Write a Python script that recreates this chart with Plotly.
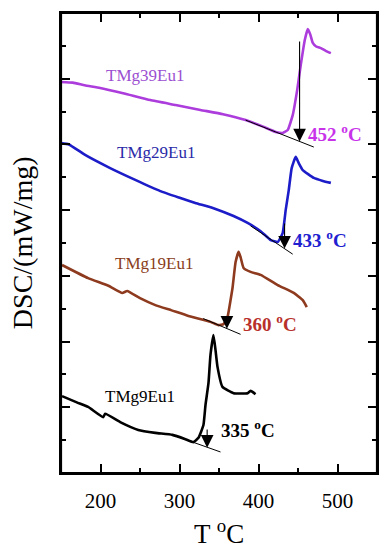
import plotly.graph_objects as go

# ---- data ----
t39 = [150, 165, 180, 199.5, 230, 263, 295, 326.5, 355, 383.7, 405, 421.7, 430.6, 437, 443.3, 449, 453.5, 458.6, 462.4, 465.5, 468.7, 473, 478.9, 485, 491.6]
d39 = [11.90, 11.88, 11.80, 11.72, 11.55, 11.35, 11.20, 11.05, 10.92, 10.74, 10.55, 10.38, 10.35, 10.44, 10.89, 11.66, 12.42, 13.18, 13.51, 13.35, 13.09, 12.98, 12.93, 12.85, 12.78]

t29 = [150, 160, 180.5, 212.2, 244, 275.7, 301.1, 320, 343, 368.4, 386.2, 402.7, 415.4, 424.3, 430.6, 434.4, 438.3, 442, 447.1, 451, 456, 470, 481.4, 491.6]
d29 = [10.04, 10.00, 9.68, 9.28, 8.92, 8.58, 8.37, 8.22, 8.06, 7.82, 7.61, 7.36, 7.09, 7.03, 7.30, 8.00, 8.61, 9.28, 9.62, 9.43, 9.22, 8.98, 8.89, 8.83]

t19 = [151.3, 184.3, 210, 227.5, 233.8, 250, 269.4, 290, 311.3, 339.2, 349.4, 355.7, 360.8, 364.6, 367.1, 371, 374.8, 377.3, 381.1, 390, 402.7, 424.3, 444.6, 456, 461.1]
d19 = [6.33, 5.93, 5.70, 5.48, 5.54, 5.32, 5.11, 4.95, 4.78, 4.60, 4.50, 4.53, 4.75, 5.26, 5.63, 6.42, 6.73, 6.57, 6.24, 6.12, 6.03, 5.72, 5.48, 5.26, 5.05]

t9 = [151.3, 170, 184.3, 203.3, 205.9, 224.9, 247.8, 269.4, 291, 307.5, 317.6, 324, 330.3, 332.9, 336.7, 339.2, 343, 345.6, 348.1, 354.4, 368.4, 386.2, 390, 396.3]
d9 = [2.34, 2.15, 2.01, 1.70, 1.80, 1.55, 1.31, 1.22, 1.16, 1.03, 0.94, 1.07, 1.46, 2.07, 2.74, 3.59, 4.20, 3.74, 3.23, 2.62, 2.43, 2.43, 2.50, 2.40]

names = ["TMg39Eu1", "TMg29Eu1", "TMg19Eu1", "TMg9Eu1"]
onsets = [452, 433, 360, 335]
onset_labels = ["452", "433", "360", "335"]

# tangent (baseline extrapolation) lines: x pairs, y pairs
tan_x = [[383.7, 470], [390, 443.3], [330, 377.3], [291, 351.9]]
tan_y = [[10.74, 9.92], [7.52, 6.66], [4.70, 4.22], [1.16, 0.64]]
# arrows: start y and tip y at onset temperature
arrow_top = [13.18, 7.64, 4.75, 1.37]
arrow_tip = [10.09, 6.83, 4.39, 0.77]

name_pos = [(256.7, 12.11), (270.6, 9.74), (268, 6.39), (250.3, 2.34)]
onset_pos = [(459.8, 10.35), (440.8, 7.12), (377.3, 4.56), (349.4, 1.34)]

curve_colors = ["#ac3cdc", "#1c1cc8", "#8e3a1e", "#000000"]
name_colors = ["#9b4fd1", "#2a2aa8", "#8a3d20", "#000000"]
onset_colors = ["#c833ea", "#2020d0", "#b8302a", "#000000"]

FONT = "Liberation Serif, Times New Roman, serif"

fig = go.Figure()
series = [(t39, d39), (t29, d29), (t19, d19), (t9, d9)]
for (tx, dy), nm, c in zip(series, names, curve_colors):
    fig.add_trace(go.Scatter(x=tx, y=dy, mode="lines", name=nm,
                             line=dict(color=c, width=2.6, shape="spline", smoothing=0.4),
                             showlegend=False))
for tx, ty in zip(tan_x, tan_y):
    fig.add_trace(go.Scatter(x=tx, y=ty, mode="lines", line=dict(color="black", width=1),
                             showlegend=False))

ann = []
for i in range(4):
    ann.append(dict(x=onsets[i], y=arrow_tip[i], ax=onsets[i], ay=arrow_top[i],
                    xref="x", yref="y", axref="x", ayref="y", text="",
                    showarrow=True, arrowhead=2, arrowsize=2.3, arrowwidth=1.1,
                    arrowcolor="black"))
    ann.append(dict(x=name_pos[i][0], y=name_pos[i][1], xref="x", yref="y",
                    text=names[i], showarrow=False,
                    font=dict(family=FONT, size=17, color=name_colors[i])))
    ann.append(dict(x=onset_pos[i][0], y=onset_pos[i][1], xref="x", yref="y",
                    text="<b>" + onset_labels[i] + " <sup>o</sup>C</b>", showarrow=False,
                    xanchor="left",
                    font=dict(family=FONT, size=19, color=onset_colors[i])))

ann.append(dict(x=0.5, y=-0.128, xref="paper", yref="paper", yanchor="middle",
                text="T <sup>o</sup>C", showarrow=False,
                font=dict(family=FONT, size=27, color="black")))
ann.append(dict(x=-0.123, y=0.5, xref="paper", yref="paper", xanchor="center",
                text="DSC/(mW/mg)", showarrow=False, textangle=-90,
                font=dict(family=FONT, size=28, color="black")))

# page body adds an 8px offset; size/margins compensate so the plot box sits at 61..377 x 13..473
fig.update_layout(
    width=381, height=542,
    margin=dict(l=53, r=12, t=5, b=77, autoexpand=False),
    paper_bgcolor="white", plot_bgcolor="white",
    annotations=ann,
    font=dict(family=FONT, color="black"),
    shapes=[dict(type="rect", xref="paper", yref="paper", x0=0, x1=1, y0=0, y1=1,
                 line=dict(color="black", width=2.2), layer="above")],
)
fig.update_xaxes(range=[150, 550], tickvals=[200, 300, 400, 500],
                 ticks="inside", ticklen=9, tickwidth=2, tickcolor="black",
                 minor=dict(tickvals=[250, 350, 450], ticks="inside", ticklen=5, tickwidth=2, tickcolor="black"),
                 showline=True, linewidth=2, linecolor="black", mirror="ticks",
                 showgrid=False, zeroline=False,
                 tickfont=dict(family=FONT, size=21, color="black"),
                 ticklabelstandoff=8)
fig.update_yaxes(range=[0, 14], dtick=2, tick0=0,
                 ticks="inside", ticklen=9, tickwidth=2, tickcolor="black",
                 minor=dict(dtick=1, ticks="inside", ticklen=5, tickwidth=2, tickcolor="black"),
                 showline=True, linewidth=2, linecolor="black", mirror="ticks",
                 showgrid=False, zeroline=False, showticklabels=False)

fig.write_html("out.html")
